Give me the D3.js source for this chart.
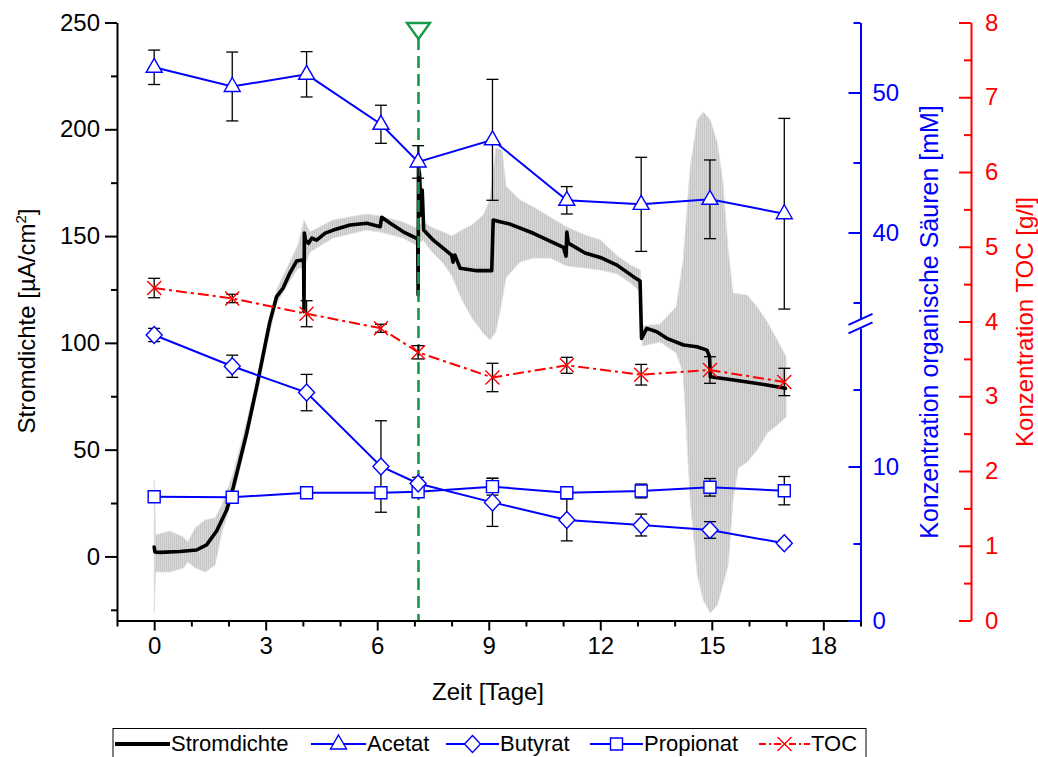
<!DOCTYPE html>
<html><head><meta charset="utf-8">
<script src="https://cdn.jsdelivr.net/npm/d3@7"></script>
<style>body{margin:0;background:#fff} text{font-family:Arial,"Liberation Sans",sans-serif}</style>
</head><body><svg id="c" width="1038" height="757"></svg>
<script>
// ---------- DATA ----------
const sampleDays = [0, 2.1, 4.1, 6.1, 7.1, 9.1, 11.1, 13.1, 14.95, 16.95];
const acetat     = [51.8, 50.43, 51.3, 47.73, 45.04, 46.62, 42.3, 42.01, 42.37, 41.34];
const acetatErr  = [1.23, 2.46, 1.62, 1.36, 1.16, 4.32, 0.98, 3.36, 2.81, 6.81];
const butyrat    = [18.54, 16.51, 14.8, 10.0, 8.9, 7.67, 6.53, 6.2, 5.88, 5.01];
const butyratErr = [0.43, 0.72, 1.18, 2.97, 0.4, 1.56, 1.36, 0.71, 0.54, 0.2];
const propionat  = [8.04, 8.0, 8.3, 8.3, 8.36, 8.69, 8.3, 8.41, 8.65, 8.43];
const propionatErr=[0.1, 0.1, 0.15, 0.2, 0.15, 0.55, 0.3, 0.45, 0.57, 0.92];
const toc        = [4.448, 4.308, 4.104, 3.909, 3.588, 3.251, 3.414, 3.288, 3.351, 3.191];
const tocErr     = [0.13, 0.056, 0.174, 0.054, 0.089, 0.19, 0.107, 0.138, 0.178, 0.183];

const currentDays = [0.00,0.02,0.15,0.69,1.14,1.41,1.68,1.95,2.13,2.31,2.49,2.76,3.03,3.11,3.29,3.47,3.65,3.83,3.98,4.02,4.03,4.04,4.07,4.15,4.24,4.37,4.60,4.82,5.27,5.72,6.08,6.12,6.35,6.70,7.06,7.09,7.10,7.11,7.14,7.18,7.21,7.25,7.51,7.78,8.00,8.04,8.09,8.23,8.68,9.08,9.12,9.30,9.57,10.20,11.01,11.08,11.10,11.14,11.59,12.00,12.45,12.89,13.07,13.11,13.25,13.52,13.79,14.24,14.60,14.87,14.94,14.96,15.59,16.48,16.98];
const currentVals = [4.4,2.1,1.9,2.3,3.0,5.4,11.9,21.7,32.5,45.1,57.8,79.5,102.9,109.7,121.5,125.7,132.7,138.3,138.8,137.8,114.6,151.4,148.1,146.6,149.0,148.1,151.4,152.8,155.2,156.0,154.4,158.8,156.0,152.0,148.9,148.1,122.4,182.3,178.6,159.8,171.5,152.8,148.1,144.2,141.1,137.8,141.1,134.9,133.8,133.8,157.5,156.7,155.6,151.3,144.7,140.6,151.9,146.7,142.1,140.0,136.4,131.0,129.0,102.1,106.8,105.2,102.1,99.0,98.2,96.6,93.5,84.1,82.6,80.3,78.7];

const bandDays  = [0.0,0.04,0.42,0.78,0.91,1.1,1.37,1.64,1.82,2.12,2.47,2.77,3.04,3.3,3.65,3.87,4.03,4.19,4.81,5.7,6.08,6.69,7.04,7.23,7.5,7.77,8.01,8.28,8.55,8.85,9.03,9.19,9.36,9.46,9.84,10.2,10.65,11.1,11.59,12.0,12.46,12.81,13.08,13.13,13.61,14.04,14.23,14.42,14.61,14.77,14.96,15.15,15.3,15.44,15.57,15.71,15.95,16.22,16.49,16.76,17.0];
const bandUpper = [35.8,10.0,11.9,9.1,6.8,13.3,17.1,18,24.1,38.6,62,84,107.4,125.2,137.9,145.8,157.5,151.9,157.5,160.3,159.4,156.6,153.8,156.6,153.8,151.9,150,152.8,155.2,159.9,166.9,191.2,190.3,173.4,166.9,163.6,158.9,154.2,150.5,148.2,140.7,136.5,134.1,107.9,108.8,116.8,138.8,182.3,204.4,208.1,204.4,193.6,174.9,143.5,123.3,122.9,122.4,116.8,109.8,101.3,93.4];
const bandLower = [-26.5,-7.3,-7.3,-5.4,-2.6,-5.4,-7.3,-4,11.4,27.4,53.1,76.5,99.5,118.7,129,135,135,142.5,149.1,152.8,151.9,149.1,145.8,148.2,142.1,137.4,131.3,120.1,111.6,104.6,101.3,105.1,120.1,130.4,137.9,139.7,139.7,136,135,134.1,132.2,128,123.8,98.5,100.4,95.3,85.9,26.4,-8.7,-20.4,-26.5,-22.7,-13.4,-4,26.4,41.4,44.2,49.8,57.8,61.5,65.3];

const markerDay = 7.11;
const xTicks = [0,3,6,9,12,15,18];
const leftTicks = [0,50,100,150,200,250];
const blueLowTicks = [0,10], blueHighTicks = [40,50];
const redTicks = [0,1,2,3,4,5,6,7,8];
const legendItems = ["Stromdichte","Acetat","Butyrat","Propionat","TOC"];

// ---------- SCALES ----------
const svg = d3.select("#c");
const yTop = 22.5, yBot = 620.5;
const x = d3.scaleLinear().domain([-1,19]).range([117,860.5]);
const yL = d3.scaleLinear().domain([-30,250]).range([yBot,yTop]);
const yR = d3.scaleLinear().domain([0,8]).range([yBot,yTop]);
const yBlo = d3.scaleLinear().domain([0,19]).range([yBot,327.9]);
const yBhi = d3.scaleLinear().domain([33.8,55]).range([319.3,yTop]);
const yB = v => v <= 19 ? yBlo(v) : yBhi(v);
const blue = "#0000ff", red = "#ff0000", green = "#17984a";

// striped fill for the dense grey error bars
const pat = svg.append("defs").append("pattern").attr("id","stripes")
  .attr("patternUnits","userSpaceOnUse").attr("width",2).attr("height",10);
pat.append("rect").attr("width",2).attr("height",10).attr("fill","#dddddd");
pat.append("rect").attr("width",1.2).attr("height",10).attr("fill","#c6c6c6");

// ---------- GREY BAND ----------
const band = bandDays.map((d,i)=>({d, u:bandUpper[i], l:bandLower[i]}));
svg.append("path").datum(band)
  .attr("d", d3.area().x(p=>x(p.d)).y0(p=>yL(p.l)).y1(p=>yL(p.u)))
  .attr("fill","url(#stripes)").attr("stroke","#e0e0e0").attr("stroke-width",0.8);

// ---------- CURRENT DENSITY ----------
const cur = currentDays.map((d,i)=>[d,currentVals[i]]);
svg.append("path").datum(cur)
  .attr("d", d3.line().x(p=>x(p[0])).y(p=>yL(p[1])))
  .attr("fill","none").attr("stroke","#000").attr("stroke-width",3.6)
  .attr("stroke-linejoin","round").attr("stroke-linecap","round");

// ---------- GREEN MARKER ----------
svg.append("line").attr("x1",x(markerDay)).attr("x2",x(markerDay))
  .attr("y1",38).attr("y2",yBot).attr("stroke",green).attr("stroke-width",2.6)
  .attr("stroke-dasharray","12,6");
svg.append("path").attr("transform",`translate(${x(markerDay)},0)`)
  .attr("d","M-11.5,23 L11.5,23 L0,39 Z").attr("fill","#fff")
  .attr("stroke",green).attr("stroke-width",2.4);

// ---------- AXES ----------
function styleAxis(g, color){
  g.selectAll("path,line").attr("stroke",color).attr("stroke-width",2);
  g.selectAll("text").attr("fill",color).style("font-size","24px")
   .style("font-family","Arial, 'Liberation Sans', sans-serif");
}
const gx = svg.append("g").attr("transform",`translate(0,${yBot})`);
gx.call(d3.axisBottom(x).tickValues(xTicks).tickSizeInner(10).tickSizeOuter(0).tickPadding(6));
styleAxis(gx,"#000");
const gxm = svg.append("g").attr("transform",`translate(0,${yBot})`);
gxm.call(d3.axisBottom(x).tickValues(d3.range(-1,20,1).filter(v=>v%3!==0)).tickSize(6).tickFormat(""));
gxm.select(".domain").remove(); styleAxis(gxm,"#000");
const gl = svg.append("g").attr("transform",`translate(117,0)`);
gl.call(d3.axisLeft(yL).tickValues(leftTicks).tickSizeInner(12).tickSizeOuter(0).tickPadding(5));
styleAxis(gl,"#000");
const glm = svg.append("g").attr("transform",`translate(117,0)`);
glm.call(d3.axisLeft(yL).tickValues([-25,25,75,125,175,225]).tickSize(6).tickFormat(""));
glm.select(".domain").remove(); styleAxis(glm,"#000");
const bx = 860.5;
[[yBlo,blueLowTicks,[5,15]],[yBhi,blueHighTicks,[35,45,55]]].forEach(([sc,maj,mn])=>{
  const g = svg.append("g").attr("transform",`translate(${bx},0)`);
  g.call(d3.axisRight(sc).tickValues(maj).tickSizeInner(-12).tickSizeOuter(0).tickPadding(12));
  styleAxis(g,blue);
  const gm = svg.append("g").attr("transform",`translate(${bx},0)`);
  gm.call(d3.axisRight(sc).tickValues(mn).tickSize(-7).tickFormat(""));
  gm.select(".domain").remove(); styleAxis(gm,blue);
});
[yBlo(19), yBhi(33.8)].forEach(yy=>{
  svg.append("line").attr("x1",bx-12).attr("y1",yy+5.5).attr("x2",bx+12).attr("y2",yy-5.5)
    .attr("stroke",blue).attr("stroke-width",2);
});
const rx = 971;
const gr = svg.append("g").attr("transform",`translate(${rx},0)`);
gr.call(d3.axisRight(yR).tickValues(redTicks).tickSizeInner(-12).tickSizeOuter(0).tickPadding(14));
styleAxis(gr,red);
const grm = svg.append("g").attr("transform",`translate(${rx},0)`);
grm.call(d3.axisRight(yR).tickValues(d3.range(0.5,8,1)).tickSize(-7).tickFormat(""));
grm.select(".domain").remove(); styleAxis(grm,red);

svg.append("text").attr("x",488).attr("y",700).attr("text-anchor","middle")
  .style("font-size","24px").text("Zeit [Tage]");
const lt = svg.append("text").attr("transform","translate(35,321) rotate(-90)")
  .attr("text-anchor","middle").style("font-size","24px");
lt.append("tspan").text("Stromdichte [µA/cm");
lt.append("tspan").attr("dy",-9).style("font-size","15px").text("2");
lt.append("tspan").attr("dy",9).text("]");
svg.append("text").attr("transform","translate(938,322) rotate(-90)")
  .attr("text-anchor","middle").attr("fill",blue).style("font-size","25px")
  .text("Konzentration organische Säuren [mM]");
svg.append("text").attr("transform","translate(1033,322) rotate(-90)")
  .attr("text-anchor","middle").attr("fill",red).style("font-size","24px")
  .text("Konzentration TOC [g/l]");

// ---------- MARKERS & SERIES ----------
const tri = "M0,-9 L8,5 L-8,5 Z", dia = "M0,-8.5 L8,0 L0,8.5 L-8,0 Z", sq = "M-6,-6 L6,-6 L6,6 L-6,6 Z", cross = "M-7,-7 L7,7 M-7,7 L7,-7";
function errorBars(vals, errs, ys){
  const g = svg.append("g").attr("stroke","#000").attr("stroke-width",1.3);
  sampleDays.forEach((d,i)=>{
    const xx = x(d), y1 = ys(vals[i]-errs[i]), y2 = ys(vals[i]+errs[i]);
    g.append("line").attr("x1",xx).attr("x2",xx).attr("y1",y1).attr("y2",y2);
    g.append("line").attr("x1",xx-6).attr("x2",xx+6).attr("y1",y1).attr("y2",y1);
    g.append("line").attr("x1",xx-6).attr("x2",xx+6).attr("y1",y2).attr("y2",y2);
  });
}
errorBars(toc,tocErr,yR);
errorBars(acetat,acetatErr,yB);
errorBars(butyrat,butyratErr,yB);
errorBars(propionat,propionatErr,yB);

function series(vals, ys, color, dash){
  svg.append("path").datum(vals)
    .attr("d", d3.line().x((v,i)=>x(sampleDays[i])).y(v=>ys(v)))
    .attr("fill","none").attr("stroke",color).attr("stroke-width",2)
    .attr("stroke-dasharray",dash||null);
}
function markers(vals, ys, color, shape, fill){
  svg.append("g").selectAll("path").data(vals).join("path")
    .attr("transform",(v,i)=>`translate(${x(sampleDays[i])},${ys(v)})`)
    .attr("d",shape).attr("fill",fill).attr("stroke",color).attr("stroke-width",1.4);
}
series(propionat,yB,blue); series(butyrat,yB,blue); series(acetat,yB,blue);
series(toc,yR,red,"11,4,3,4");
markers(propionat,yB,blue,sq,"#fff");
markers(butyrat,yB,blue,dia,"#fff");
markers(acetat,yB,blue,tri,"#fff");
markers(toc,yR,red,cross,"none");

// ---------- LEGEND ----------
const lg = svg.append("g");
lg.append("rect").attr("x",113).attr("y",728.5).attr("width",753).attr("height",40)
  .attr("fill","#fff").attr("stroke","#000").attr("stroke-width",1);
const lgX = [[115,170],[311,366],[446,499],[590,643],[759,810]];
const lgShapes = [null,tri,dia,sq,cross];
const lgColors = ["#000",blue,blue,blue,red];
legendItems.forEach((name,i)=>{
  const [a,b] = lgX[i], ly = 744;
  lg.append("line").attr("x1",a).attr("x2",b).attr("y1",ly).attr("y2",ly)
    .attr("stroke",lgColors[i]).attr("stroke-width",i===0?4:2)
    .attr("stroke-dasharray",i===4?"7,3,2,3":null);
  if(lgShapes[i]) lg.append("path").attr("transform",`translate(${(a+b)/2},${ly})`)
    .attr("d",lgShapes[i]).attr("fill",i===4?"none":"#fff").attr("stroke",lgColors[i]).attr("stroke-width",1.4);
  lg.append("text").attr("x",b+1).attr("y",751).style("font-size","22px").text(name);
});
</script></body></html>
